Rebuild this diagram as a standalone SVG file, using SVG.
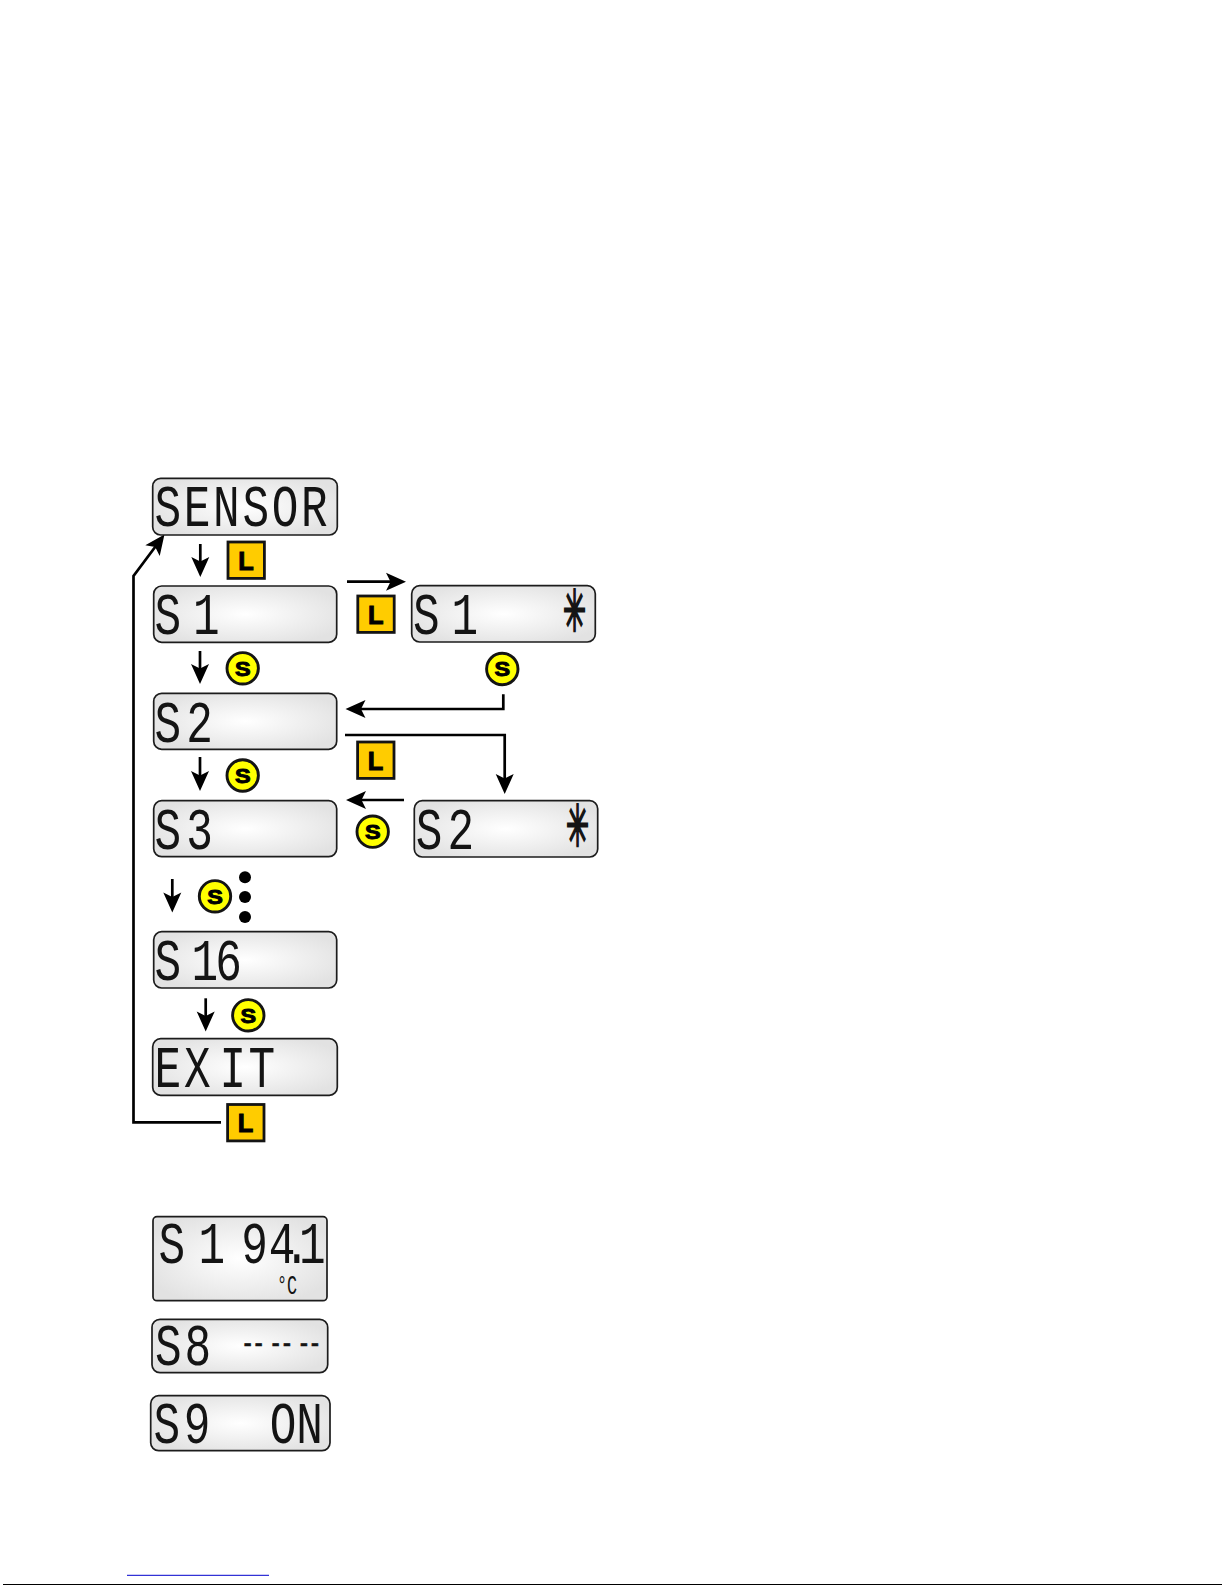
<svg xmlns="http://www.w3.org/2000/svg" width="1225" height="1585" viewBox="0 0 1225 1585">
<style>
.panel{fill:url(#lcdbg);stroke:#1c1c1c;stroke-width:1.7}
.lcd{font-family:"Liberation Mono",monospace;font-size:60px;fill:#141414}
.star{font-family:"DejaVu Sans",sans-serif;font-size:50px;fill:#141414;stroke:#141414;stroke-width:2}
.keyL rect{fill:#ffcc00;stroke:#141414;stroke-width:2.8}
.keyS circle{fill:#ffff00;stroke:#141414;stroke-width:2.9}
.keyL text,.keyS text{font-family:"Liberation Sans",Arial,sans-serif;font-weight:bold;fill:#000;stroke:#000;stroke-width:1}
.keyL text{font-size:26px}
.keyS text{font-size:21px}
.dot{fill:#000}
#connectors path{fill:none;stroke:#000;stroke-width:2.7}
</style>
<defs>
<radialGradient id="lcdbg" cx="50%" cy="50%" r="58%">
<stop offset="0" stop-color="#ffffff"/><stop offset="1" stop-color="#e2e2e2"/>
</radialGradient>
<marker id="head" markerUnits="userSpaceOnUse" markerWidth="30" markerHeight="30" refX="5" refY="15" orient="auto" overflow="visible">
<path d="M0,6 L20,15 L0,24 L4.5,15 Z" fill="#000"/>
</marker>
</defs>
<rect width="1225" height="1585" fill="#fff"/>

<g id="connectors">
<path marker-end="url(#head)" d="M221,1122.3 H133.5 V576 L155.5,546.5"/>
<path marker-end="url(#head)" d="M200.3,544 V562"/>
<path marker-end="url(#head)" d="M200,651 V669"/>
<path marker-end="url(#head)" d="M200,757 V776"/>
<path marker-end="url(#head)" d="M172.3,879 V897.5"/>
<path marker-end="url(#head)" d="M205.7,998.3 V1016.5"/>
<path marker-end="url(#head)" d="M347,581.7 H391"/>
<path marker-end="url(#head)" d="M503.3,694.3 V709 H360.5"/>
<path marker-end="url(#head)" d="M345,735 H504.7 V779"/>
<path marker-end="url(#head)" d="M404,800 H361"/>
</g>

<g id="display-sensor">
<rect class="panel" x="152.7" y="478.3" width="184.6" height="56.7" rx="8"/>
<text class="lcd" transform="translate(154.5,525.5) scale(.74,1)" x="0 39.6 79.2 118.8 158.4 198">SENSOR</text>
</g>
<g id="display-s1">
<rect class="panel" x="153.7" y="586" width="183" height="56.3" rx="8"/>
<text class="lcd" transform="translate(154.5,634) scale(.74,1)" x="0 52">S1</text>
</g>
<g id="display-s2">
<rect class="panel" x="153.7" y="693.3" width="183" height="56" rx="8"/>
<text class="lcd" transform="translate(154.5,741.5) scale(.74,1)" x="0 43">S2</text>
</g>
<g id="display-s3">
<rect class="panel" x="153.7" y="800.7" width="183" height="56" rx="8"/>
<text class="lcd" transform="translate(154.5,849) scale(.74,1)" x="0 43">S3</text>
</g>
<g id="display-s16">
<rect class="panel" x="153.7" y="931.7" width="183" height="56.3" rx="8"/>
<text class="lcd" transform="translate(154.5,980) scale(.74,1)" x="0 50 82">S16</text>
</g>
<g id="display-exit">
<rect class="panel" x="152.7" y="1038.7" width="184.6" height="56.6" rx="8"/>
<text class="lcd" transform="translate(154.5,1087) scale(.74,1)" x="0 40 88 127">EXIT</text>
</g>
<g id="display-s1-star">
<rect class="panel" x="411.7" y="585.7" width="183.6" height="56.3" rx="8"/>
<text class="lcd" transform="translate(413,634) scale(.74,1)" x="0 52">S1</text>
<text class="star" transform="translate(574.5,631) scale(.55,1.15)" text-anchor="middle">✳</text>
</g>
<g id="display-s2-star">
<rect class="panel" x="414.3" y="800.7" width="183.4" height="56.3" rx="8"/>
<text class="lcd" transform="translate(415.7,848.5) scale(.74,1)" x="0 43">S2</text>
<text class="star" transform="translate(577.5,846) scale(.55,1.15)" text-anchor="middle">✳</text>
</g>
<g id="display-s1-value">
<rect class="panel" x="153" y="1216.7" width="174" height="84" rx="4"/>
<text class="lcd" transform="translate(158.5,1263) scale(.74,1)" x="0 54 86 112 149 169 190">S1 94.1</text>
<text class="lcd" style="font-size:28px" transform="translate(277,1294) scale(.6,1)">°C</text>
</g>
<g id="display-s8">
<rect class="panel" x="152" y="1319.3" width="175.7" height="53.4" rx="8"/>
<text class="lcd" transform="translate(155,1365) scale(.74,1)" x="0 40">S8</text>
<text class="lcd" transform="translate(241,1353) scale(.74,1)" x="0 15 38 53 76 91" style="font-size:30px;stroke:#141414;stroke-width:.7">------</text>
</g>
<g id="display-s9">
<rect class="panel" x="150.7" y="1395.7" width="179.3" height="55" rx="8"/>
<text class="lcd" transform="translate(153.5,1443) scale(.74,1)" x="0 41 90 157 193">S9 ON</text>
</g>

<g id="key-l1" class="keyL" transform="translate(246.2,560)"><rect x="-18.2" y="-18" width="36.4" height="36.4"/><text x="-8" y="9.5" textLength="15.5" lengthAdjust="spacingAndGlyphs">L</text></g>
<g id="key-l2" class="keyL" transform="translate(376,614)"><rect x="-18.2" y="-18" width="36.4" height="36.4"/><text x="-8" y="9.5" textLength="15.5" lengthAdjust="spacingAndGlyphs">L</text></g>
<g id="key-l3" class="keyL" transform="translate(375.8,760)"><rect x="-18.2" y="-18" width="36.4" height="36.4"/><text x="-8" y="9.5" textLength="15.5" lengthAdjust="spacingAndGlyphs">L</text></g>
<g id="key-l4" class="keyL" transform="translate(245.8,1122.5)"><rect x="-18.2" y="-18" width="36.4" height="36.4"/><text x="-8" y="9.5" textLength="15.5" lengthAdjust="spacingAndGlyphs">L</text></g>

<g id="key-s1" class="keyS" transform="translate(242.7,668.3)"><circle r="15.7"/><text x="-7.8" y="7.2" textLength="15.6" lengthAdjust="spacingAndGlyphs">S</text></g>
<g id="key-s2" class="keyS" transform="translate(502.3,669)"><circle r="15.7"/><text x="-7.8" y="7.2" textLength="15.6" lengthAdjust="spacingAndGlyphs">S</text></g>
<g id="key-s3" class="keyS" transform="translate(242.7,775.5)"><circle r="15.7"/><text x="-7.8" y="7.2" textLength="15.6" lengthAdjust="spacingAndGlyphs">S</text></g>
<g id="key-s4" class="keyS" transform="translate(372.7,831.7)"><circle r="15.7"/><text x="-7.8" y="7.2" textLength="15.6" lengthAdjust="spacingAndGlyphs">S</text></g>
<g id="key-s5" class="keyS" transform="translate(215,896.3)"><circle r="15.7"/><text x="-7.8" y="7.2" textLength="15.6" lengthAdjust="spacingAndGlyphs">S</text></g>
<g id="key-s6" class="keyS" transform="translate(248.3,1015.3)"><circle r="15.7"/><text x="-7.8" y="7.2" textLength="15.6" lengthAdjust="spacingAndGlyphs">S</text></g>

<g id="ellipsis">
<circle class="dot" cx="245" cy="877.3" r="6"/>
<circle class="dot" cx="245" cy="897" r="6"/>
<circle class="dot" cx="245" cy="917" r="6"/>
</g>
<g id="page-edge">
<line x1="127" x2="269" y1="1575.3" y2="1575.3" stroke="#0000cc" stroke-width="1"/>
<line x1="3" x2="1222" y1="1584.5" y2="1584.5" stroke="#000" stroke-width="1"/>
</g>
</svg>
